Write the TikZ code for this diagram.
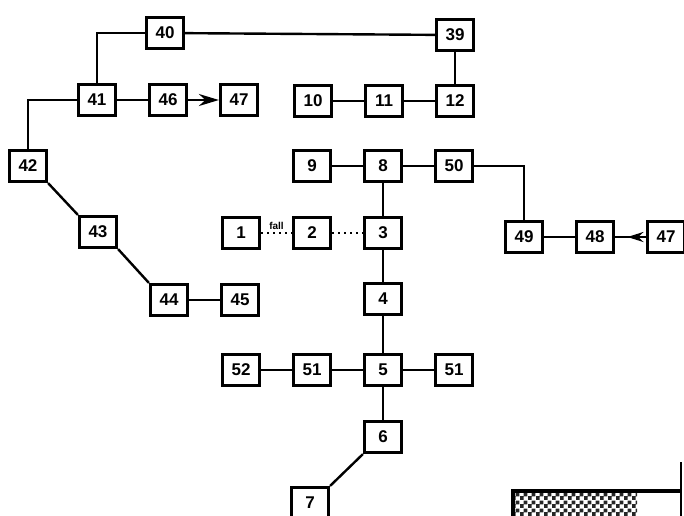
\documentclass[tikz,border=0pt]{standalone}
\usepackage{fontspec}
\setmainfont{Liberation Sans}
\usetikzlibrary{arrows.meta}
\usetikzlibrary{positioning}
\usetikzlibrary{patterns}
\usetikzlibrary{decorations.markings}

\pgfdeclarepatternformonly{fine checker}{\pgfpointorigin}{\pgfqpoint{4pt}{4pt}}{\pgfqpoint{4pt}{4pt}}{%
	\pgfpathrectangle{\pgfpointorigin}{\pgfqpoint{2.05pt}{2.05pt}}%
	\pgfpathrectangle{\pgfqpoint{2pt}{2pt}}{\pgfqpoint{2.05pt}{2.05pt}}%
	\pgfusepath{fill}}

\begin{document}
\begin{tikzpicture}[
		x=0.5pt,
		y=-0.5pt,
		>={Stealth[length=10pt,width=6pt]},
		line width=1.2pt,
		node distance=35.5pt,
		main node/.style={font=\fontsize{8.5}{9}\selectfont\bfseries},
		boxed node/.style={
			main node,
			rectangle,
			draw,
			line width=1.6pt,
			fill=white,
			minimum width=18.5pt,
			minimum height=15.5pt,
			inner sep=0pt
		},
		fall line/.style={dotted, line width=1pt},
		tip mid/.style={
			decoration={markings, mark=at position 0.6 with {\arrow{Stealth[length=8pt,width=5pt]}}},
			postaction={decorate}
		}
		]
		
		\useasboundingbox (0,0) rectangle (684,515);
		
		\node[boxed node] (n40) at (165,33) {40};
		\node[boxed node] (n39) at (455,35) {39};
		\node[boxed node] (n41) at (97,100) {41};
		\node[boxed node] (n46) [right of=n41] {46};
		\node[boxed node] (n47a) [right of=n46] {47};
		\node[boxed node] (n12) at (455,101) {12};
		\node[boxed node] (n11) [left of=n12] {11};
		\node[boxed node] (n10) [left of=n11] {10};
		\node[boxed node] (n42) at (28,166) {42};
		\node[boxed node] (n8) at (383,166) {8};
		\node[boxed node] (n9) [left of=n8] {9};
		\node[boxed node] (n50) [right of=n8] {50};
		\node[boxed node] (n43) at (98,232) {43};
		\node[boxed node] (n3) at (383,233) {3};
		\node[boxed node] (n2) [left of=n3] {2};
		\node[boxed node] (n1) [left of=n2] {1};
		\node[boxed node] (n49) at (524,237) {49};
		\node[boxed node] (n48) [right of=n49] {48};
		\node[boxed node] (n47b) [right of=n48] {47};
		\node[boxed node] (n44) at (169,300) {44};
		\node[boxed node] (n45) [right of=n44] {45};
		\node[boxed node] (n4) at (383,299) {4};
		\node[boxed node] (n5) at (383,370) {5};
		\node[boxed node] (n51a) [left of=n5] {51};
		\node[boxed node] (n52) [left of=n51a] {52};
		\node[boxed node] (n51b) [right of=n5] {51};
		\node[boxed node] (n6) at (383,437) {6};
		\node[boxed node] (n7) at (310,503) {7};
		
		\path
		(n40) edge (n39)
		(n39) edge (n12)
		(n10) edge (n11)
		(n11) edge (n12)
		(n41) edge (n46)
		(n9) edge (n8)
		(n8) edge (n50)
		(n8) edge (n3)
		(n3) edge (n4)
		(n4) edge (n5)
		(n5) edge (n6)
		(n52) edge (n51a)
		(n51a) edge (n5)
		(n5) edge (n51b)
		(n44) edge (n45)
		(n49) edge (n48)
		(n42.south east) edge (n43.north west)
		(n43.south east) edge (n44.north west)
		(n6.south west) edge (n7.north east);
		\draw (n41) |- (n40);
		\draw (n41) -| (n42);
		\draw (n50) -| (n49);
		\draw[->] (n46) -- (n47a);
		\draw[tip mid] (n47b) -- (n48);
		\draw[fall line] (n1) -- node[above, font=\fontsize{5}{5}\selectfont\bfseries, inner sep=1pt] (tfall) {fall} (n2);
		\draw[fall line] (n2) -- (n3);
		
		% the hatched block, lower right
		\fill[pattern=fine checker, pattern color=black!85] (514,492) rectangle (637,520);
		\draw[line width=1.6pt] (513,520) |- (681,491);
		\draw (681,462) -- (681,520);
	\end{tikzpicture}
\end{document}
